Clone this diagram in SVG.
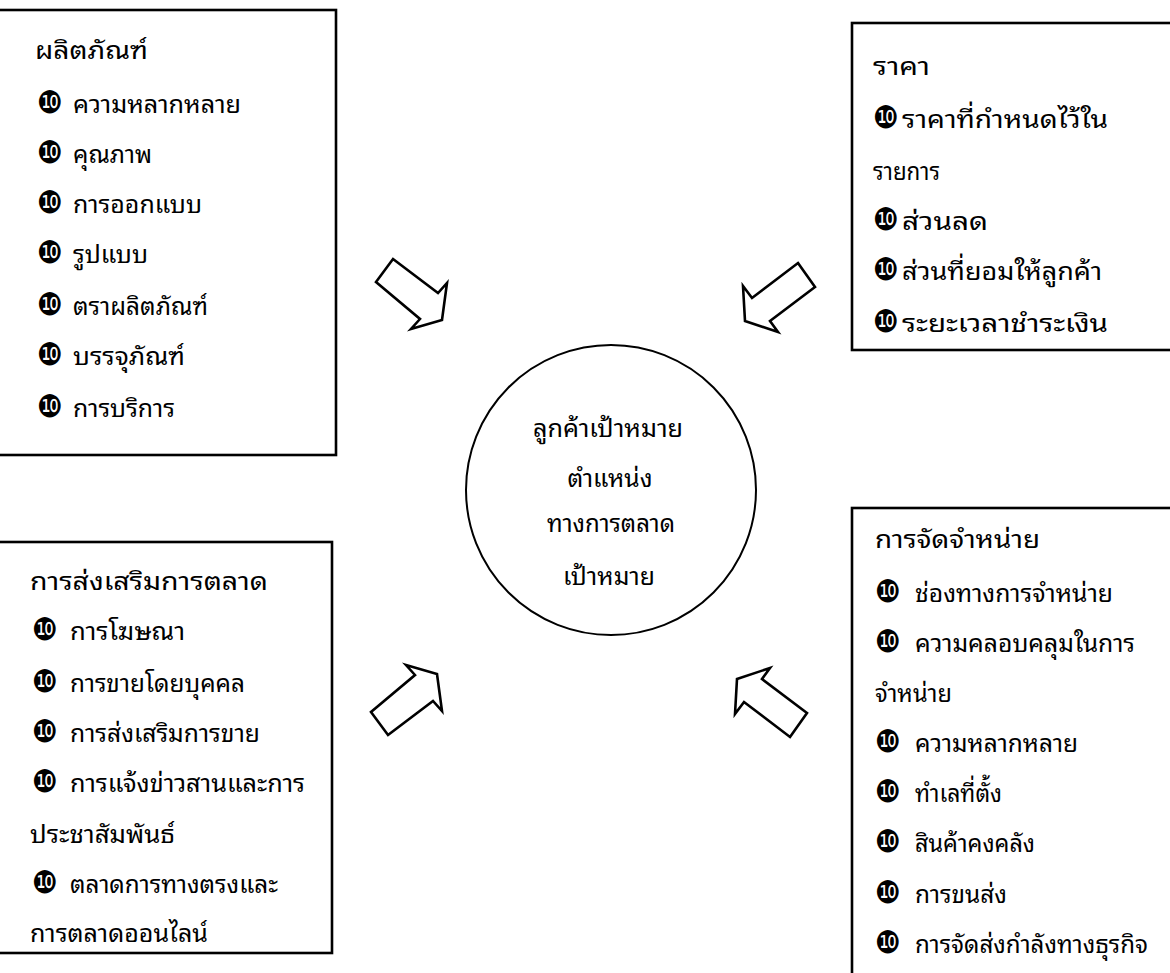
<svg xmlns="http://www.w3.org/2000/svg" width="1170" height="973" viewBox="0 0 1170 973">
<style>
.box{fill:#fff;stroke:#000;stroke-width:2.6}
.arr{fill:#fff;stroke:#000;stroke-width:2.6;stroke-linejoin:miter}
.t{font-family:"Noto Sans Thai Looped","Noto Serif Thai","Noto Sans Thai","Noto Sans",sans-serif;font-size:25px;fill:#000}
.b{font-family:"DejaVu Sans",sans-serif;font-size:31px;fill:#000}
.c{font-family:"Noto Sans Thai Looped","Noto Serif Thai","Noto Sans Thai","Noto Sans",sans-serif;font-size:25px;fill:#000;text-anchor:middle}
</style>
<rect width="1170" height="973" fill="#fff"/>
<g id="product">
<rect class="box" x="-5" y="10" width="341" height="445"/>
<text class="t" x="35" y="59" textLength="113" lengthAdjust="spacingAndGlyphs">ผลิตภัณฑ์</text>
<text class="b" x="37" y="113" textLength="26" lengthAdjust="spacingAndGlyphs">❿</text><text class="t" x="73" y="113" textLength="168" lengthAdjust="spacingAndGlyphs">ความหลากหลาย</text>
<text class="b" x="37" y="163" textLength="26" lengthAdjust="spacingAndGlyphs">❿</text><text class="t" x="73" y="163" textLength="79" lengthAdjust="spacingAndGlyphs">คุณภาพ</text>
<text class="b" x="37" y="213" textLength="26" lengthAdjust="spacingAndGlyphs">❿</text><text class="t" x="73" y="213" textLength="129" lengthAdjust="spacingAndGlyphs">การออกแบบ</text>
<text class="b" x="37" y="263" textLength="26" lengthAdjust="spacingAndGlyphs">❿</text><text class="t" x="73" y="263" textLength="75" lengthAdjust="spacingAndGlyphs">รูปแบบ</text>
<text class="b" x="37" y="315" textLength="26" lengthAdjust="spacingAndGlyphs">❿</text><text class="t" x="73" y="315" textLength="135" lengthAdjust="spacingAndGlyphs">ตราผลิตภัณฑ์</text>
<text class="b" x="37" y="365" textLength="26" lengthAdjust="spacingAndGlyphs">❿</text><text class="t" x="73" y="365" textLength="112" lengthAdjust="spacingAndGlyphs">บรรจุภัณฑ์</text>
<text class="b" x="37" y="417" textLength="26" lengthAdjust="spacingAndGlyphs">❿</text><text class="t" x="73" y="417" textLength="102" lengthAdjust="spacingAndGlyphs">การบริการ</text>
</g>
<g id="price">
<rect class="box" x="852" y="23" width="330" height="327"/>
<text class="t" x="873" y="75" textLength="57" lengthAdjust="spacingAndGlyphs">ราคา</text>
<text class="b" x="873" y="128" textLength="26" lengthAdjust="spacingAndGlyphs">❿</text><text class="t" x="902" y="128" textLength="206" lengthAdjust="spacingAndGlyphs">ราคาที่กำหนดไว้ใน</text>
<text class="t" x="873" y="180" textLength="67" lengthAdjust="spacingAndGlyphs">รายการ</text>
<text class="b" x="873" y="230" textLength="26" lengthAdjust="spacingAndGlyphs">❿</text><text class="t" x="902" y="230" textLength="86" lengthAdjust="spacingAndGlyphs">ส่วนลด</text>
<text class="b" x="873" y="280" textLength="26" lengthAdjust="spacingAndGlyphs">❿</text><text class="t" x="902" y="280" textLength="200" lengthAdjust="spacingAndGlyphs">ส่วนที่ยอมให้ลูกค้า</text>
<text class="b" x="873" y="332" textLength="26" lengthAdjust="spacingAndGlyphs">❿</text><text class="t" x="902" y="332" textLength="206" lengthAdjust="spacingAndGlyphs">ระยะเวลาชำระเงิน</text>
</g>
<g id="promotion">
<rect class="box" x="-5" y="542" width="337" height="411"/>
<text class="t" x="30" y="590" textLength="238" lengthAdjust="spacingAndGlyphs">การส่งเสริมการตลาด</text>
<text class="b" x="32" y="640" textLength="26" lengthAdjust="spacingAndGlyphs">❿</text><text class="t" x="70" y="640" textLength="115" lengthAdjust="spacingAndGlyphs">การโฆษณา</text>
<text class="b" x="32" y="692" textLength="26" lengthAdjust="spacingAndGlyphs">❿</text><text class="t" x="70" y="692" textLength="175" lengthAdjust="spacingAndGlyphs">การขายโดยบุคคล</text>
<text class="b" x="32" y="742" textLength="26" lengthAdjust="spacingAndGlyphs">❿</text><text class="t" x="70" y="742" textLength="190" lengthAdjust="spacingAndGlyphs">การส่งเสริมการขาย</text>
<text class="b" x="32" y="792" textLength="26" lengthAdjust="spacingAndGlyphs">❿</text><text class="t" x="70" y="792" textLength="235" lengthAdjust="spacingAndGlyphs">การแจ้งข่าวสานและการ</text>
<text class="t" x="30" y="843" textLength="145" lengthAdjust="spacingAndGlyphs">ประชาสัมพันธ์</text>
<text class="b" x="32" y="893" textLength="26" lengthAdjust="spacingAndGlyphs">❿</text><text class="t" x="70" y="893" textLength="208" lengthAdjust="spacingAndGlyphs">ตลาดการทางตรงและ</text>
<text class="t" x="30" y="942" textLength="178" lengthAdjust="spacingAndGlyphs">การตลาดออนไลน์</text>
</g>
<g id="place">
<rect class="box" x="852" y="508" width="330" height="480"/>
<text class="t" x="875" y="548" textLength="165" lengthAdjust="spacingAndGlyphs">การจัดจำหน่าย</text>
<text class="b" x="875" y="602" textLength="26" lengthAdjust="spacingAndGlyphs">❿</text><text class="t" x="915" y="602" textLength="198" lengthAdjust="spacingAndGlyphs">ช่องทางการจำหน่าย</text>
<text class="b" x="875" y="652" textLength="26" lengthAdjust="spacingAndGlyphs">❿</text><text class="t" x="915" y="652" textLength="220" lengthAdjust="spacingAndGlyphs">ความคลอบคลุมในการ</text>
<text class="t" x="875" y="702" textLength="77" lengthAdjust="spacingAndGlyphs">จำหน่าย</text>
<text class="b" x="875" y="752" textLength="26" lengthAdjust="spacingAndGlyphs">❿</text><text class="t" x="915" y="752" textLength="163" lengthAdjust="spacingAndGlyphs">ความหลากหลาย</text>
<text class="b" x="875" y="802" textLength="26" lengthAdjust="spacingAndGlyphs">❿</text><text class="t" x="915" y="802" textLength="87" lengthAdjust="spacingAndGlyphs">ทำเลที่ตั้ง</text>
<text class="b" x="875" y="852" textLength="26" lengthAdjust="spacingAndGlyphs">❿</text><text class="t" x="915" y="852" textLength="120" lengthAdjust="spacingAndGlyphs">สินค้าคงคลัง</text>
<text class="b" x="875" y="903" textLength="26" lengthAdjust="spacingAndGlyphs">❿</text><text class="t" x="915" y="903" textLength="92" lengthAdjust="spacingAndGlyphs">การขนส่ง</text>
<text class="b" x="875" y="953" textLength="26" lengthAdjust="spacingAndGlyphs">❿</text><text class="t" x="915" y="953" textLength="233" lengthAdjust="spacingAndGlyphs">การจัดส่งกำลังทางธุรกิจ</text>
</g>
<g id="target">
<circle cx="611" cy="490" r="145" fill="#fff" stroke="#000" stroke-width="2"/>
<text class="c" x="608" y="437" textLength="150" lengthAdjust="spacingAndGlyphs">ลูกค้าเป้าหมาย</text>
<text class="c" x="610" y="487" textLength="85" lengthAdjust="spacingAndGlyphs">ตำแหน่ง</text>
<text class="c" x="611" y="532" textLength="128" lengthAdjust="spacingAndGlyphs">ทางการตลาด</text>
<text class="c" x="609" y="585" textLength="92" lengthAdjust="spacingAndGlyphs">เป้าหมาย</text>
</g>
<g id="connectors">
<polygon class="arr" points="393,259 438,293 447,283 442,320 411,329 420,319 376,282"/>
<polygon class="arr" points="798,263 815,287 770,321 778,332 745,321 743,286 752,298"/>
<polygon class="arr" points="388,735 433,701 442,711 437,674 406,665 415,675 371,712"/>
<polygon class="arr" points="790,737 807,713 762,679 770,668 737,679 735,714 744,702"/>
</g>
</svg>
